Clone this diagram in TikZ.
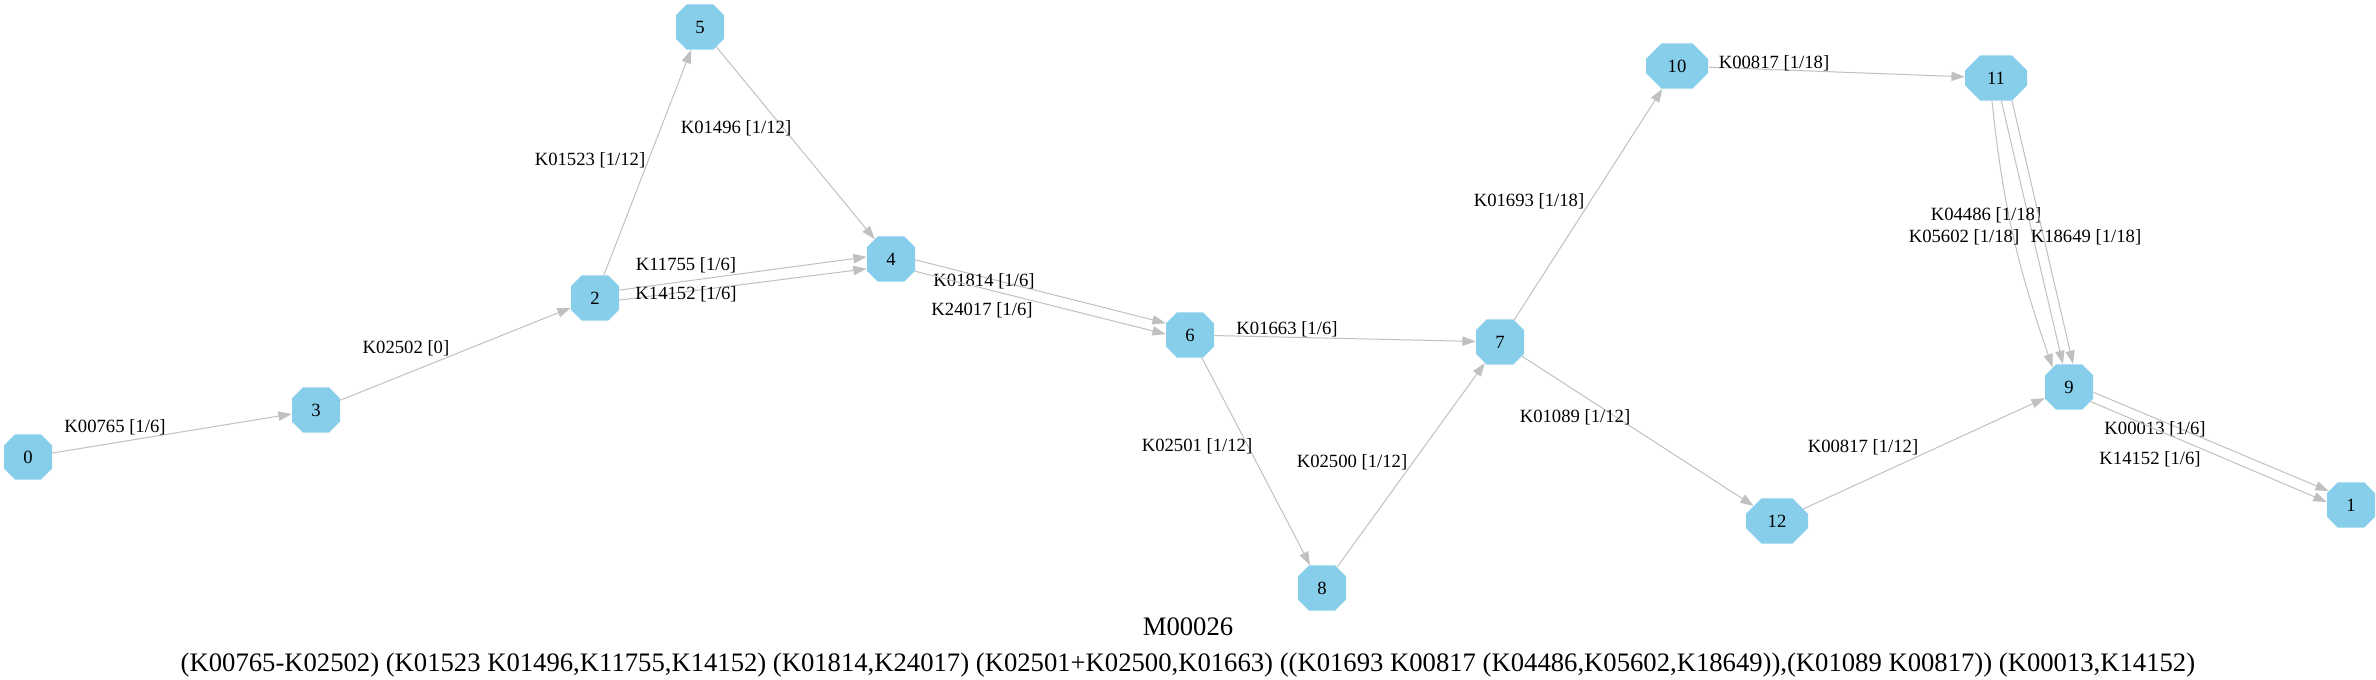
\documentclass[tikz,border=0pt]{standalone}
\usepackage{xcolor}
\definecolor{87ceeb}{HTML}{87ceeb}
\definecolor{c0c0c0}{HTML}{c0c0c0}
\usepackage{fontspec}
\setmainfont{Liberation Serif}
\usepackage{tikz}
\usetikzlibrary{shapes.misc, arrows.meta}

\begin{document}
\begin{tikzpicture}[x=0.75pt, y=-0.75pt,
                        oct/.style={chamfered rectangle, chamfered rectangle xsep=9pt, chamfered rectangle ysep=7pt, fill=87ceeb, inner sep=0pt, minimum width=36pt, minimum height=34pt, font=\fontsize{14}{16}\selectfont},
                        octwide/.style={oct, minimum width=46.5pt},
                        edge/.style={c0c0c0, line width=0.75pt, -{Triangle[length=10pt, width=7pt]}},
                        lbl/.style={text=black, inner sep=0pt, font=\fontsize{14}{16}\selectfont}]
                        \useasboundingbox (0, 0) rectangle (2376, 680);

                        \node (n0) at (28, 457) [oct] {0};
                        \node (n3) at (316, 410) [oct] {3};
                        \node (n2) at (595, 298) [oct] {2};
                        \node (n5) at (700, 27) [oct] {5};
                        \node (n4) at (891, 259) [oct] {4};
                        \node (n6) at (1190, 335) [oct] {6};
                        \node (n7) at (1500, 342) [oct] {7};
                        \node (n8) at (1322, 588) [oct] {8};
                        \node (n10) at (1677, 66) [octwide] {10};
                        \node (n11) at (1996, 78) [octwide] {11};
                        \node (n9) at (2069, 387) [oct] {9};
                        \node (n12) at (1777, 521) [octwide] {12};
                        \node (n1) at (2351, 505) [oct] {1};

                        \draw[edge] (n0) -- (n3) node[lbl] (k1) at (115, 427) {K00765 [1/6]};
                        \draw[edge] (n3) -- (n2) node[lbl] (k2) at (406, 348) {K02502 [0]};
                        \draw[edge] (n2) -- (n5) node[lbl] (k3) at (590, 160) {K01523 [1/12]};
                        \draw[edge] (n5) -- (n4) node[lbl] (k4) at (736, 128) {K01496 [1/12]};
                        \draw[edge] (n2.18) -- (n4.175) node[lbl] (k5) at (686, 265) {K11755 [1/6]};
                        \draw[edge] (n2.-5) -- (n4.202) node[lbl] (k6) at (686, 294) {K14152 [1/6]};
                        \draw[edge] (n4.-2) -- (n6.154) node[lbl] (k7) at (984, 281) {K01814 [1/6]};
                        \draw[edge] (n4.-27) -- (n6.178) node[lbl] (k8) at (982, 310) {K24017 [1/6]};
                        \draw[edge] (n6) -- (n7) node[lbl] (k9) at (1287, 329) {K01663 [1/6]};
                        \draw[edge] (n6) -- (n8) node[lbl] (k10) at (1197, 446) {K02501 [1/12]};
                        \draw[edge] (n8) -- (n7) node[lbl] (k11) at (1352, 462) {K02500 [1/12]};
                        \draw[edge] (n7) -- (n10) node[lbl] (k12) at (1529, 201) {K01693 [1/18]};
                        \draw[edge] (n7) -- (n12) node[lbl] (k13) at (1575, 417) {K01089 [1/12]};
                        \draw[edge] (n10) -- (n11) node[lbl] (k14) at (1774, 63) {K00817 [1/18]};
                        \draw[edge] (n11.-100) to[out=-84, in=109] (n9.130) node[lbl] (k15) at (1964, 237) {K05602 [1/18]};
                        \draw[edge] (n11.-77) -- (n9.105) node[lbl] (k16) at (1986, 215) {K04486 [1/18]};
                        \draw[edge] (n11.-55) -- (n9.80) node[lbl] (k17) at (2086, 237) {K18649 [1/18]};
                        \draw[edge] (n12) -- (n9) node[lbl] (k18) at (1863, 447) {K00817 [1/12]};
                        \draw[edge] (n9.-12) -- (n1.148) node[lbl] (k19) at (2155, 429) {K00013 [1/6]};
                        \draw[edge] (n9.-34) -- (n1.173) node[lbl] (k20) at (2150, 459) {K14152 [1/6]};

                        \node (t1) at (1188, 635) [anchor=base, font=\fontsize{20}{24}\selectfont] {M00026};
                        \node (t2) at (1188, 671) [anchor=base, font=\fontsize{20}{24}\selectfont] {(K00765-K02502) (K01523 K01496,K11755,K14152) (K01814,K24017) (K02501+K02500,K01663) ((K01693 K00817 (K04486,K05602,K18649)),(K01089 K00817)) (K00013,K14152)};
                    \end{tikzpicture}
\end{document}
